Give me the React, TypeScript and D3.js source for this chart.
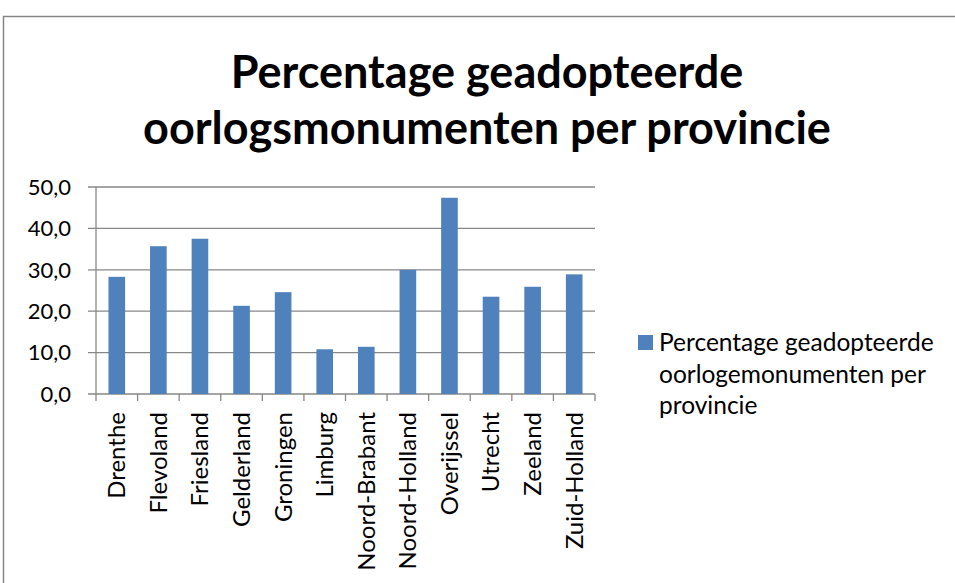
import React, { useEffect, useRef } from "react";
import * as d3 from "d3";

// provinces and percentages
const provinces = [
  "Drenthe", "Flevoland", "Friesland", "Gelderland", "Groningen", "Limburg",
  "Noord-Brabant", "Noord-Holland", "Overijssel", "Utrecht", "Zeeland", "Zuid-Holland",
];
const percentages = [28.3, 35.7, 37.5, 21.3, 24.6, 10.8, 11.4, 30.0, 47.4, 23.5, 25.9, 28.9];
const yTicks = [0, 10, 20, 30, 40, 50];
const titleLines = ["Percentage geadopteerde", "oorlogsmonumenten per provincie"];
const legendLines = ["Percentage geadopteerde", "oorlogemonumenten per", "provincie"];

const FONT = "Lato, Carlito, Calibri, sans-serif";

export default function App() {
  const ref = useRef<SVGSVGElement>(null);

  useEffect(() => {
    const width = 955, height = 583;
    const left = 96, right = 595, top = 187, bottom = 394;
    const svg = d3.select(ref.current);
    svg.selectAll("*").remove();

    // outer chart border
    svg.append("rect")
      .attr("x", 3.5).attr("y", 16.5)
      .attr("width", width + 20).attr("height", height + 20)
      .attr("fill", "#fff").attr("stroke", "#868686").attr("stroke-width", 1.5);

    // title
    svg.append("text")
      .attr("x", 487).attr("y", 88)
      .attr("text-anchor", "middle")
      .style("font-family", FONT).style("font-weight", "bold").style("font-size", "45px")
      .selectAll("tspan")
      .data(titleLines)
      .enter()
      .append("tspan")
      .attr("x", 487)
      .attr("dy", (d, i) => (i === 0 ? 0 : 56))
      .text(d => d);

    var x = d3.scaleBand()
      .domain(provinces)
      .range([left, right])
      .paddingInner(0.6)
      .paddingOuter(0.3);

    var y = d3.scaleLinear()
      .domain([0, 50])
      .range([bottom, top]);

    // gridlines
    svg.append("g")
      .selectAll("line")
      .data(yTicks)
      .enter()
      .append("line")
      .attr("x1", left - 8).attr("x2", right)
      .attr("y1", d => y(d)).attr("y2", d => y(d))
      .attr("stroke", "#878787").attr("stroke-width", 1.3);

    // y labels
    svg.append("g")
      .selectAll("text")
      .data(yTicks)
      .enter()
      .append("text")
      .attr("x", 71).attr("y", d => y(d))
      .attr("dy", "0.35em")
      .attr("text-anchor", "end")
      .style("font-family", FONT).style("font-size", "22px").attr("fill", "#000")
      .text(d => d.toFixed(1).replace(".", ","));

    // bars
    svg.append("g")
      .selectAll("rect")
      .data(percentages)
      .enter()
      .append("rect")
      .attr("x", (d, i) => x(provinces[i]))
      .attr("y", d => y(d))
      .attr("width", x.bandwidth())
      .attr("height", d => y(0) - y(d))
      .attr("fill", "#4F81BD");

    // axes lines and category ticks
    svg.append("line")
      .attr("x1", left).attr("x2", left).attr("y1", top).attr("y2", bottom)
      .attr("stroke", "#878787").attr("stroke-width", 1.3);
    var step = x.step();
    svg.append("g")
      .selectAll("line")
      .data(d3.range(provinces.length + 1))
      .enter()
      .append("line")
      .attr("x1", i => left + i * step).attr("x2", i => left + i * step)
      .attr("y1", bottom).attr("y2", bottom + 7)
      .attr("stroke", "#878787").attr("stroke-width", 1.3);

    // x labels, rotated
    svg.append("g")
      .selectAll("text")
      .data(provinces)
      .enter()
      .append("text")
      .attr("transform", d => "translate(" + (x(d)! + x.bandwidth() / 2) + ",412) rotate(-90)")
      .attr("dy", "0.35em")
      .attr("text-anchor", "end")
      .style("font-family", FONT).style("font-size", "24px").attr("fill", "#000")
      .text(d => d);

    // legend
    svg.append("rect")
      .attr("x", 638).attr("y", 335).attr("width", 15).attr("height", 15)
      .attr("fill", "#4F81BD");
    svg.append("text")
      .style("font-family", FONT).style("font-size", "24.5px").attr("fill", "#000")
      .selectAll("tspan")
      .data(legendLines)
      .enter()
      .append("tspan")
      .attr("x", 659)
      .attr("y", (d, i) => 351 + i * 31.5)
      .text(d => d);
  }, []);

  return (
    <svg ref={ref} width={955} height={583}
      style={{ position: "absolute", left: 0, top: 0, display: "block" }} />
  );
}
